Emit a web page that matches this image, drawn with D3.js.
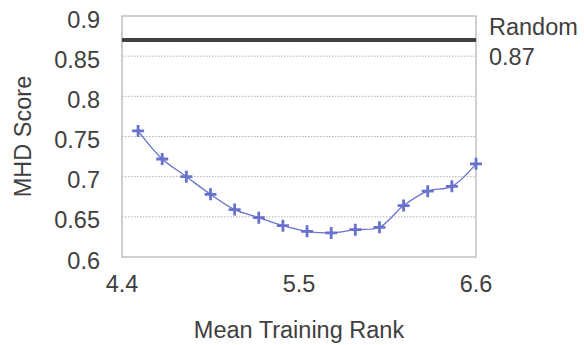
<!DOCTYPE html>
<html>
<head>
<meta charset="utf-8">
<script src="https://cdn.jsdelivr.net/npm/d3@7"></script>
<style>
  body { margin: 0; background: #fff; }
  svg text { font-family: "Liberation Sans", Arial, sans-serif; fill: #404040; font-size: 23.5px; }
</style>
</head>
<body>
<svg id="chart" width="584" height="345"></svg>
<script>
// mean training rank (x) and MHD score (y)
var ranks = [4.5, 4.65, 4.8, 4.95, 5.1, 5.25, 5.4, 5.55, 5.7, 5.85, 6.0, 6.15, 6.3, 6.45, 6.6];
var scores = [0.757, 0.722, 0.700, 0.678, 0.659, 0.649, 0.639, 0.632, 0.630, 0.634, 0.637, 0.664, 0.682, 0.688, 0.716];
var xTicks = [4.4, 5.5, 6.6];
var yTicks = [0.6, 0.65, 0.7, 0.75, 0.8, 0.85, 0.9];
var randomScore = 0.87;

var svg = d3.select("#chart");
var margin = { left: 122, right: 108, top: 16, bottom: 88 };
var w = 584 - margin.left - margin.right,
    h = 345 - margin.top - margin.bottom;

var x = d3.scaleLinear().domain([4.4, 6.6]).range([0, w]);
var y = d3.scaleLinear().domain([0.6, 0.9]).range([h, 0]);

var g = svg.append("g").attr("transform", "translate(" + margin.left + "," + margin.top + ")");

// dotted gridlines
g.selectAll("line.grid")
    .data(yTicks.slice(1, -1))
    .enter()
    .append("line")
    .attr("class", "grid")
    .attr("x1", 0).attr("x2", w)
    .attr("y1", function (d) { return y(d); })
    .attr("y2", function (d) { return y(d); })
    .attr("stroke", "#b0b0b0")
    .attr("stroke-width", 1)
    .attr("stroke-dasharray", "1.5,1.5");

// frame
g.append("rect")
    .attr("x", 0).attr("y", 0)
    .attr("width", w).attr("height", h)
    .attr("fill", "none")
    .attr("stroke", "#c0c0c0")
    .attr("stroke-width", 1.5);

// y tick labels
g.selectAll("text.ytick")
    .data(yTicks)
    .enter()
    .append("text")
    .attr("class", "ytick")
    .attr("x", -22)
    .attr("y", function (d) { return y(d) + 11.5; })
    .attr("text-anchor", "end")
    .text(function (d) { return d3.format("")(d); });

// x tick labels
g.selectAll("text.xtick")
    .data(xTicks)
    .enter()
    .append("text")
    .attr("class", "xtick")
    .attr("x", function (d) { return x(d); })
    .attr("y", 292 - margin.top)
    .attr("text-anchor", "middle")
    .text(function (d) { return d3.format(".1f")(d); });

// axis titles
svg.append("text")
    .attr("transform", "translate(31," + (margin.top + h / 2) + ") rotate(-90)")
    .attr("text-anchor", "middle")
    .text("MHD Score");

svg.append("text")
    .attr("x", margin.left + w / 2)
    .attr("y", 338)
    .attr("text-anchor", "middle")
    .text("Mean Training Rank");

// random baseline
g.append("line")
    .attr("x1", 0).attr("x2", w)
    .attr("y1", y(randomScore)).attr("y2", y(randomScore))
    .attr("stroke", "#404040")
    .attr("stroke-width", 4);

svg.append("text")
    .attr("x", 489).attr("y", 35)
    .text("Random");

svg.append("text")
    .attr("x", 489).attr("y", 65)
    .text(randomScore);

// series
var pts = ranks.map(function (r, i) { return [r, scores[i]]; });
var color = "#6872cc";

g.append("path")
    .datum(pts)
    .attr("fill", "none")
    .attr("stroke", color)
    .attr("stroke-width", 1.3)
    .attr("d", d3.line()
        .x(function (d) { return x(d[0]); })
        .y(function (d) { return y(d[1]); })
        .curve(d3.curveCatmullRom.alpha(0.5)));

var plus = g.selectAll("g.mark")
    .data(pts)
    .enter()
    .append("g")
    .attr("class", "mark")
    .attr("transform", function (d) { return "translate(" + x(d[0]) + "," + y(d[1]) + ")"; });

plus.append("path")
    .attr("d", "M-6,0H6M0,-6V6")
    .attr("stroke", color)
    .attr("stroke-width", 2.8);
</script>
</body>
</html>
